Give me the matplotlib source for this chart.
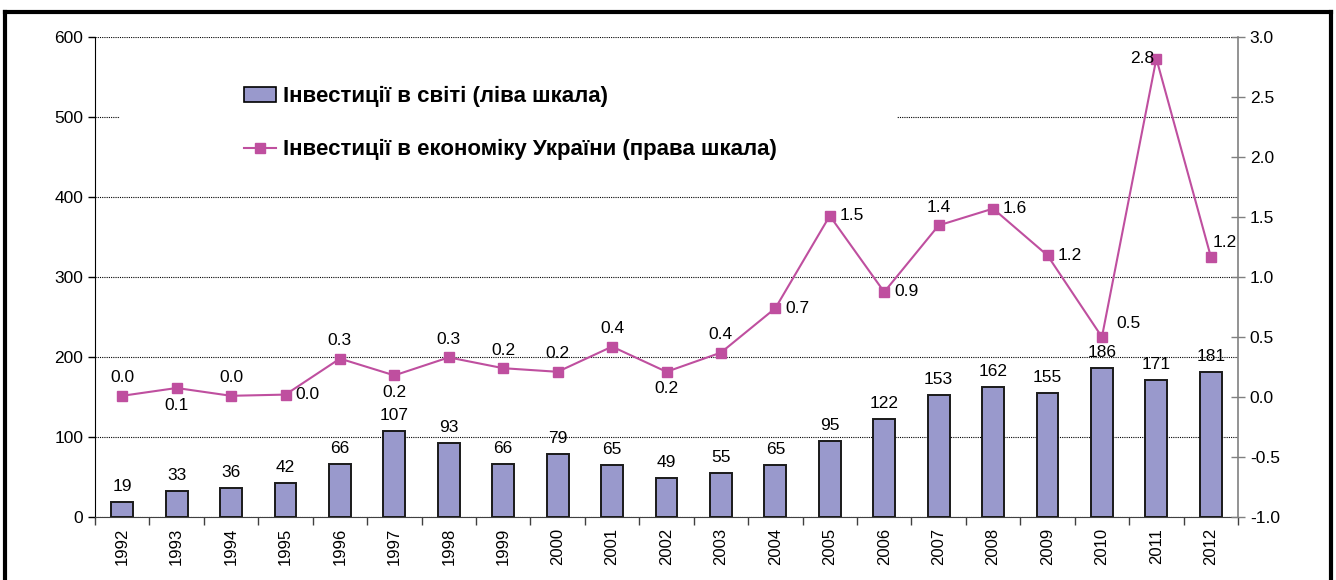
import matplotlib
matplotlib.use("Agg")
import matplotlib.pyplot as plt
from matplotlib.patches import Rectangle
from matplotlib.lines import Line2D
import numpy as np

plt.rcParams['font.family'] = ['Liberation Sans', 'DejaVu Sans']

years = [str(y) for y in range(1992, 2013)]
world = [19, 33, 36, 42, 66, 107, 93, 66, 79, 65, 49, 55, 65, 95, 122, 153, 162, 155, 186, 171, 181]
ukraine = [0.01, 0.075, 0.01, 0.02, 0.32, 0.18, 0.33, 0.24, 0.21, 0.42, 0.21, 0.37, 0.74,
           1.51, 0.875, 1.43, 1.57, 1.18, 0.50, 2.82, 1.17]
label_world = 'Інвестиції в світі (ліва шкала)'
label_ukr = 'Інвестиції в економіку України (права шкала)'

# label placement for line points: (dx px, dy px, ha)
place = {'A': (0, 18, 'center'), 'B': (0, -17, 'center'), 'R': (10, 0, 'left'),
         'X': (14, 14, 'left'), 'L': (-2, 0, 'right'), 'Y': (2, 14, 'left')}
line_pos = ['A', 'B', 'A', 'R', 'A', 'B', 'A', 'A', 'A', 'A', 'B', 'A', 'R', 'R', 'R', 'A', 'R', 'R',
            'X', 'L', 'Y']

W, H = 1336, 580
fig = plt.figure(figsize=(W / 100, H / 100), dpi=100)
ax = fig.add_axes([95 / W, 1 - 517 / H, (1238 - 95) / W, (517 - 37) / H])
ax2 = ax.twinx()

bar_color = '#9999CC'
line_color = '#BF4F9F'
x = np.arange(len(years))

ax.bar(x, world, width=0.4, color=bar_color, edgecolor='#1a1a1a', linewidth=1.4, zorder=3)
for xi, v in zip(x, world):
    ax.annotate(f'{v}', (xi, v), xytext=(0, 8), textcoords='offset pixels',
                ha='center', va='bottom', fontsize=12.5, zorder=4)

ax.set_xlim(-0.5, len(years) - 0.5)
ax.set_ylim(0, 600)
ax.set_yticks(range(0, 601, 100))
ax.set_xticks(x)
ax.set_xticklabels(years, rotation=90, fontsize=12)
ax.set_xticks(np.arange(-0.5, len(years), 1), minor=True)
ax.tick_params(axis='x', which='major', length=0, pad=8)
ax.tick_params(axis='x', which='minor', length=6, direction='out', width=1, color='#404040')
ax.tick_params(axis='y', labelsize=12.5, length=5, direction='out', width=1)
ax.yaxis.grid(True, linestyle=(0, (1, 1)), color='black', linewidth=0.8, zorder=0)
ax.set_axisbelow(True)
for s in ['top', 'right']:
    ax.spines[s].set_visible(False)
ax.spines['left'].set_color('black')
ax.spines['bottom'].set_color('#404040')

# white area behind legend (covers gridline)
ax.add_patch(Rectangle((0.022, 0.70), 0.68, 0.24, transform=ax.transAxes,
                       facecolor='white', edgecolor='none', zorder=1))

ax2.plot(x, ukraine, color=line_color, linewidth=1.5, marker='s', markersize=7,
         markeredgecolor=line_color, zorder=3)
for xi, v, p in zip(x, ukraine, line_pos):
    dx, dy, ha = place[p]
    ax2.annotate(f'{v:.1f}', (xi, v), xytext=(dx, dy), textcoords='offset pixels',
                 ha=ha, va='center', fontsize=12.5)
ax2.set_ylim(-1.0, 3.0)
ticks_r = np.arange(-1.0, 3.01, 0.5)
ax2.set_yticks(ticks_r)
ax2.set_yticklabels([f'{t:.1f}' for t in ticks_r])
ax2.tick_params(axis='y', labelsize=12.5, length=10, direction='inout', width=1, color='#808080')
for s in ['top', 'left', 'bottom']:
    ax2.spines[s].set_visible(False)
ax2.spines['right'].set_color('#808080')
ax2.spines['right'].set_linewidth(1.2)

handles = [Rectangle((0, 0), 1, 1, facecolor=bar_color, edgecolor='black', linewidth=1.2),
           Line2D([0], [0], color=line_color, linewidth=1.5, marker='s', markersize=7)]
fig.legend(handles, [label_world, label_ukr], loc='upper left',
           bbox_to_anchor=(244 / W, 1 - 86 / H), frameon=False, borderpad=0, borderaxespad=0,
           prop={'size': 16, 'weight': 'bold'}, handlelength=1.45, handletextpad=0.3,
           labelspacing=1.45)

# outer frame
lw = 3
fig.add_artist(Line2D([5 / W, 5 / W], [0, 1 - 12 / H], color='black', linewidth=lw))
fig.add_artist(Line2D([5 / W, 1331 / W], [1 - 12 / H, 1 - 12 / H], color='black', linewidth=lw))
fig.add_artist(Line2D([1331 / W, 1331 / W], [0, 1 - 12 / H], color='black', linewidth=lw))

fig.savefig('out.png', dpi=100)
